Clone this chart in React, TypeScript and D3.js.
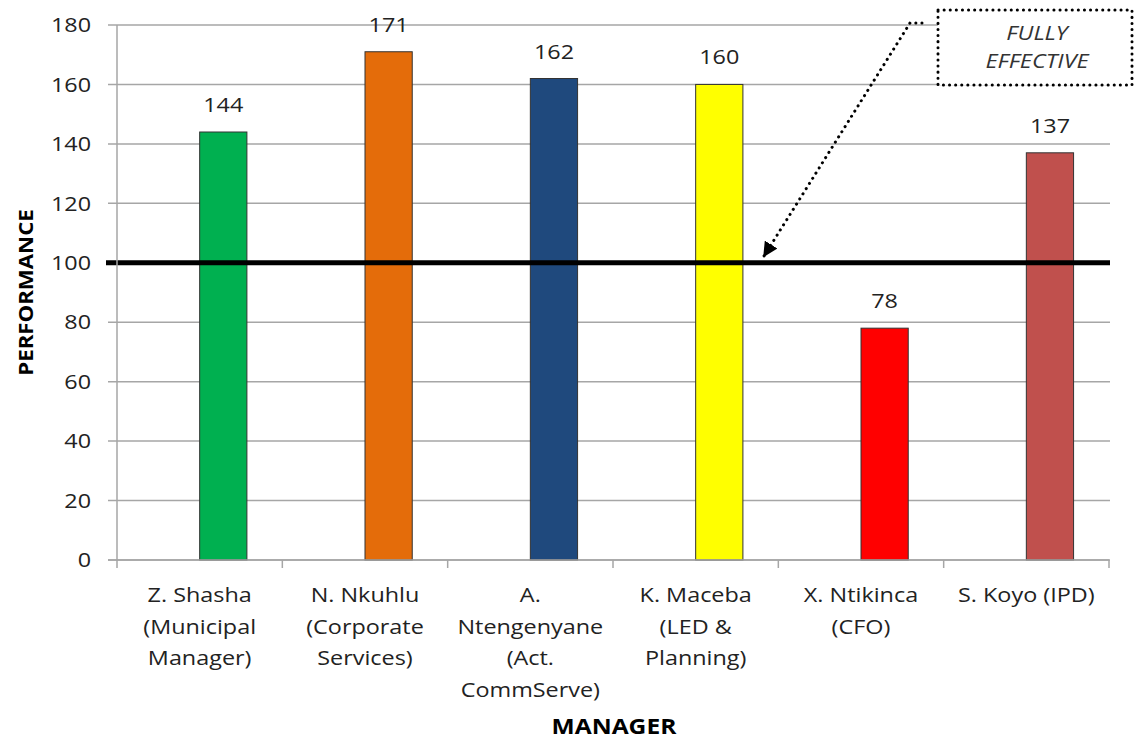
import React from "react";
import * as d3 from "d3";

const managers = [
  ["Z. Shasha", "(Municipal", "Manager)"],
  ["N. Nkuhlu", "(Corporate", "Services)"],
  ["A.", "Ntengenyane", "(Act.", "CommServe)"],
  ["K. Maceba", "(LED &", "Planning)"],
  ["X. Ntikinca", "(CFO)"],
  ["S. Koyo (IPD)"],
];
const performance = [144, 171, 162, 160, 78, 137];
const barColors = ["#00b050", "#e46c0a", "#1f497d", "#ffff00", "#ff0000", "#c0504d"];
const yTicks = [0, 20, 40, 60, 80, 100, 120, 140, 160, 180];
const seriesSlots = ["empty", "performance"];
const thresholdValue = 100;
const annotationLines = ["FULLY", "EFFECTIVE"];

const FONT = "'Open Sans', 'Noto Sans', sans-serif";
const SX = 1.17;

type TProps = {
  x: number;
  y: number;
  anchor?: "start" | "middle" | "end";
  size?: number;
  weight?: string;
  italic?: boolean;
  fill?: string;
  dy?: string;
  rotate?: number;
  children: React.ReactNode;
};

function T({ x, y, anchor = "middle", size = 20, weight = "normal", italic = false, fill = "#222", dy, rotate = 0, children }: TProps) {
  return (
    <text
      transform={`translate(${x},${y}) rotate(${rotate}) scale(${SX},1)`}
      textAnchor={anchor}
      fontFamily={FONT}
      fontSize={size}
      fontWeight={weight}
      fontStyle={italic ? "italic" : "normal"}
      fill={fill}
      dy={dy}
    >
      {children}
    </text>
  );
}

export default function App() {
  const W = 1134;
  const H = 740;
  const left = 117;
  const right = 1109;
  const top = 25;
  const bottom = 560;

  const cats = managers.map((_, i) => String(i));
  const x = d3.scaleBand<string>().domain(cats).range([left, right]).paddingInner(0).paddingOuter(0);
  const xs = d3.scaleBand<string>().domain(seriesSlots).range([0, x.step()]).paddingInner(0).paddingOuter(0.75);
  const y = d3.scaleLinear().domain([0, 180]).range([bottom, top]);

  const gridColor = "#a6a6a6";
  const axisColor = "#a6a6a6";

  return (
    <svg width={W} height={H} style={{ display: "block", position: "absolute", left: 0, top: 0, background: "#fff" }}>
      <defs>
        <marker id="arrowHead" viewBox="0 0 10 10" refX="9" refY="5" markerWidth="5" markerHeight="5" orient="auto">
          <path d="M0,0 L10,5 L0,10 z" fill="#000" />
        </marker>
      </defs>
      {/* gridlines */}
      {yTicks.map((t) => (
        <line key={"g" + t} x1={108} x2={1110} y1={y(t)} y2={y(t)} stroke={gridColor} strokeWidth={1.5} />
      ))}
      {/* y tick labels */}
      {yTicks.map((t) => (
        <T key={"yl" + t} x={91} y={y(t)} dy="0.36em" anchor="end">
          {t}
        </T>
      ))}
      {/* bars */}
      {performance.map((v, i) => (
        <rect
          key={"b" + i}
          x={(x(String(i)) as number) + (xs("performance") as number)}
          y={y(v)}
          width={xs.bandwidth()}
          height={y(0) - y(v)}
          fill={barColors[i]}
          stroke="#333"
          strokeWidth={1}
        />
      ))}
      {/* value labels */}
      {performance.map((v, i) => (
        <T key={"v" + i} x={(x(String(i)) as number) + (xs("performance") as number) + xs.bandwidth() / 2} y={y(v) - 20}>
          {v}
        </T>
      ))}
      {/* threshold line */}
      <line x1={106} x2={1110} y1={y(thresholdValue)} y2={y(thresholdValue)} stroke="#000" strokeWidth={5} />
      {/* axes */}
      <line x1={left} x2={left} y1={top} y2={bottom + 1} stroke={axisColor} strokeWidth={1.5} />
      <line x1={108} x2={right} y1={bottom} y2={bottom} stroke={axisColor} strokeWidth={1.5} />
      {cats.map((c) => (
        <line key={"t" + c} x1={x(c) as number} x2={x(c) as number} y1={bottom} y2={bottom + 8} stroke={axisColor} strokeWidth={1.5} />
      ))}
      <line x1={right} x2={right} y1={bottom} y2={bottom + 8} stroke={axisColor} strokeWidth={1.5} />
      {/* category labels */}
      {managers.map((lines, i) =>
        lines.map((ln, j) => (
          <T key={"c" + i + "-" + j} x={(x(String(i)) as number) + x.bandwidth() / 2} y={602 + j * 31.5}>
            {ln}
          </T>
        ))
      )}
      {/* axis titles */}
      <T x={33} y={(top + bottom) / 2} rotate={-90} size={19} weight="bold" fill="#000">
        PERFORMANCE
      </T>
      <T x={614} y={734} size={21} weight="bold" fill="#000">
        MANAGER
      </T>
      {/* annotation */}
      <path
        d={`M922,23 L910,23 L764,256`}
        fill="none"
        stroke="#000"
        strokeWidth={3}
        strokeDasharray="0.1 6"
        strokeLinecap="round"
        markerEnd="url(#arrowHead)"
      />
      <rect x={938} y={10} width={194} height={75} fill="#fff" stroke="#000" strokeWidth={3} strokeDasharray="0.1 6" strokeLinecap="round" />
      {annotationLines.map((ln, j) => (
        <T key={"a" + j} x={1037} y={40 + j * 28} size={20} italic fill="#333">
          {ln}
        </T>
      ))}
    </svg>
  );
}
